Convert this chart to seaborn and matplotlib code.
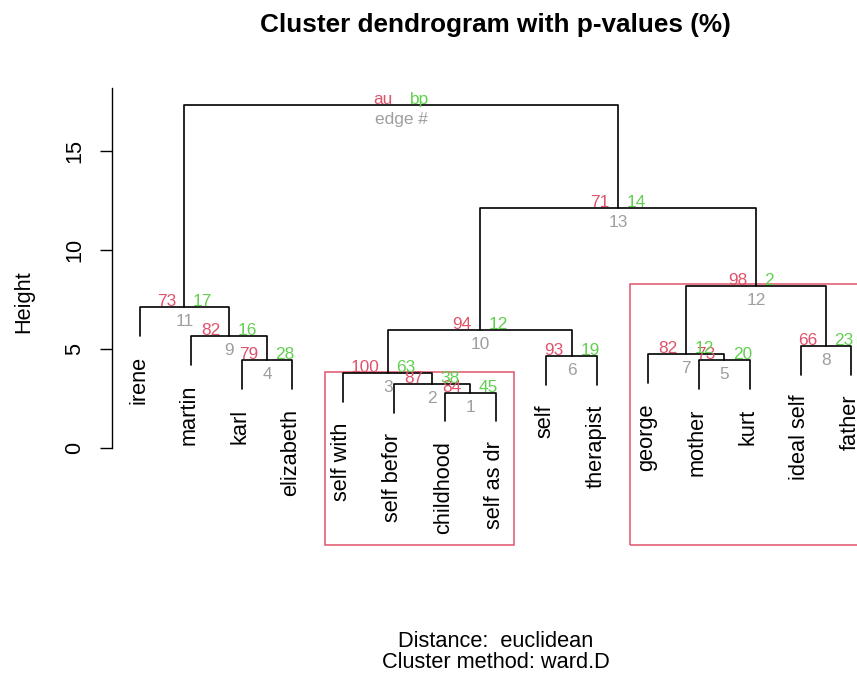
import numpy as np
import pandas as pd
import matplotlib
matplotlib.use("Agg")
import matplotlib.pyplot as plt
from matplotlib.patches import Rectangle
import seaborn as sns

# leaves in plotted order
labels = ["irene", "martin", "karl", "elizabeth", "self with", "self befor",
          "childhood", "self as dr", "self", "therapist", "george", "mother",
          "kurt", "ideal self", "father"]

# merges (R hclust convention: negative = leaf, positive = earlier merge)
merge_a = [-7, -6, -5, -3, -12, -9, -11, -14, -2, 3, -1, 7, 10, 11]
merge_b = [-8, 1, 2, -4, -13, -10, 5, -15, 4, 6, 9, 8, 12, 13]
heights = [2.81, 3.24, 3.78, 4.46, 4.46, 4.66, 4.74, 5.16, 5.67, 6.00,
           7.14, 8.22, 12.14, 17.32]

# p-values (%) per edge, edge # = merge index
au = [84, 87, 100, 79, 73, 93, 82, 66, 82, 94, 73, 98, 71]
bp = [45, 38, 63, 28, 20, 19, 12, 23, 16, 12, 17, 2, 14]
boxed = [3, 12]  # clusters with au >= 95

yticks = [0, 5, 10, 15]

au_col = "#DF536B"
bp_col = "#61D04F"
edge_col = "#9E9E9E"

sns.set_style("white")
plt.rcParams["font.family"] = ["Liberation Sans", "DejaVu Sans"]
plt.rcParams["text.color"] = "black"
plt.rcParams["ytick.color"] = "black"
plt.rcParams["axes.labelcolor"] = "black"

W, H = 857, 675
PX = 0.72  # points per pixel at 100 dpi
fig = plt.figure(figsize=(W / 100, H / 100), dpi=100)
ax = fig.add_axes([111.55 / W, 1 - 515 / H, (879.8 - 111.55) / W, (515 - 88) / H])

hang = 0.1 * (max(heights) - min(heights))
node_x = {}
leaf_bottom = {}
members = {}
rows = []
for i, (a, b) in enumerate(zip(merge_a, merge_b), start=1):
    h = heights[i - 1]
    pts = []
    mem = []
    for k in (a, b):
        if k < 0:
            x, y0 = -k, h - hang
            leaf_bottom[-k] = y0
            mem.append(-k)
        else:
            x, y0 = node_x[k], heights[k - 1]
            mem.extend(members[k])
        pts.append((x, y0))
    members[i] = mem
    node_x[i] = (pts[0][0] + pts[1][0]) / 2
    path = [pts[0], (pts[0][0], h), (pts[1][0], h), pts[1]]
    for j, (x, y) in enumerate(path):
        rows.append({"x": x, "y": y, "seg": i, "order": j})

segs = pd.DataFrame(rows)
sns.lineplot(data=segs, x="x", y="y", units="seg", estimator=None, sort=False,
             color="black", linewidth=1.2, ax=ax)

# leaf labels
for k, name in enumerate(labels, start=1):
    ax.annotate(name, xy=(k, leaf_bottom[k]), xytext=(4 * PX, -20 * PX),
                textcoords="offset points", rotation=90, rotation_mode="anchor",
                ha="right", va="baseline", fontsize=15.7, color="black",
                annotation_clip=False)

# p-value labels
def node_text(i, t_au, t_bp, t_edge):
    xy = (node_x[i], heights[i - 1])
    ax.annotate(t_au, xy=xy, xytext=(-8.5 * PX, 1 * PX), textcoords="offset points",
                ha="right", va="baseline", fontsize=12.4, color=au_col)
    ax.annotate(t_bp, xy=xy, xytext=(8.5 * PX, 1 * PX), textcoords="offset points",
                ha="left", va="baseline", fontsize=12.4, color=bp_col)
    ax.annotate(t_edge, xy=xy, xytext=(0, -19 * PX), textcoords="offset points",
                ha="center", va="baseline", fontsize=12.4, color=edge_col)

for i in range(1, len(au) + 1):
    node_text(i, str(au[i - 1]), str(bp[i - 1]), str(i))
node_text(len(heights), "au", "bp", "edge #")

# boxes round significant clusters
for i in boxed:
    lo, hi = min(members[i]), max(members[i])
    ax.add_patch(Rectangle((lo - 0.36, -4.88), hi - lo + 0.72, heights[i - 1] + 0.08 + 4.88,
                           fill=False, edgecolor=au_col, linewidth=1.1, clip_on=False))

ax.set_xlim(0.44, 15.56)
ax.set_ylim(-3.37, 18.2)
ax.set_xticks([])
ax.set_xlabel("")
ax.set_ylabel("")
for s in ["top", "right", "bottom"]:
    ax.spines[s].set_visible(False)
ax.spines["left"].set_bounds(0, 18.2)
ax.spines["left"].set_color("black")
ax.spines["left"].set_linewidth(1.0)
ax.set_yticks(yticks)
ax.set_yticklabels([str(t) for t in yticks], rotation=90, rotation_mode="anchor",
                   ha="center", va="baseline", color="black")
ax.tick_params(axis="y", left=True, direction="out", length=8.6, width=1.0,
               color="black", labelcolor="black", pad=14, labelsize=15.7)
ax.patch.set_alpha(0)

fig.text(495.7 / W, 1 - 31.7 / H, "Cluster dendrogram with p-values (%)",
         ha="center", va="baseline", fontsize=18.8, fontweight="bold", color="black")
fig.text(29 / W, 1 - 301.5 / H, "Height", rotation=90, rotation_mode="anchor",
         ha="center", va="baseline", fontsize=15.7, color="black")
fig.text(496 / W, 1 - 647 / H, "Distance:  euclidean", ha="center", va="baseline",
         fontsize=15.7, color="black")
fig.text(496 / W, 1 - 668 / H, "Cluster method: ward.D", ha="center", va="baseline",
         fontsize=15.7, color="black")

fig.savefig("out.png", dpi=100)
